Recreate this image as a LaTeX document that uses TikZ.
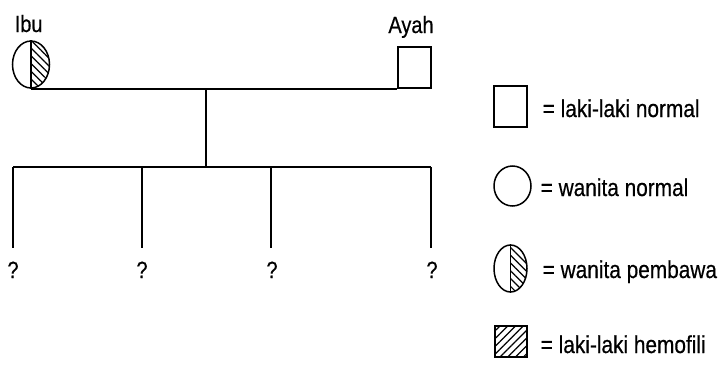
\documentclass[tikz,border=0pt]{standalone}
\usepackage{fontspec}
\setmainfont{Liberation Sans}[FakeStretch=0.85,FakeBold=0.5]
\usetikzlibrary{shapes.geometric,patterns.meta}
\begin{document}
\begin{tikzpicture}[x=1pt,y=-1pt,
  line width=1.5pt,
  male/.style={draw,rectangle,inner sep=0pt,minimum width=33pt,minimum height=41pt},
  female/.style={draw,ellipse,inner sep=0pt},
  lbl/.style={font=\fontsize{23.5pt}{25pt}\selectfont,inner sep=0pt},
  legtext/.style={font=\fontsize{24.5pt}{26pt}\selectfont,inner sep=0pt,anchor=base west},
  hatchbs/.style={pattern={Lines[angle=-45,distance=5.5pt,line width=1.2pt]}},
  hatchfs/.style={pattern={Lines[angle=45,distance=5.5pt,line width=1.2pt]}}
]
\useasboundingbox (0,0) rectangle (722,367);

% parents
\fill[hatchbs] (31,88) arc[start angle=-90,end angle=90,x radius=18.5pt,y radius=23.5pt] -- cycle;
\node[female,minimum width=37pt,minimum height=47pt] (ibu) at (31,64.5) {};
\draw (ibu.north) -- (ibu.south);
\node[lbl,anchor=base west] (ibulbl) at (14,32) {Ibu};
\node[male] (ayah) at (414.5,67.5) {};
\node[lbl,anchor=base] (ayahlbl) at (411,33) {Ayah};

% marriage and descent
\coordinate (m) at (206,88);
\coordinate (s) at (206,167);
\draw (ibu.south) -- (ayah.south west);
\draw (m) -- (s);

% children
\coordinate (c1) at (13,167);
\coordinate (c2) at (142,167);
\coordinate (c3) at (271,167);
\coordinate (c4) at (431,167);
\coordinate (e1) at (13,248);
\coordinate (e2) at (142,248);
\coordinate (e3) at (271,248);
\coordinate (e4) at (431,248);
\draw (c1) -- (c4);
\foreach \i in {1,...,4} \draw (c\i) -- (e\i);
\node[lbl,anchor=base] (q1) at (13,278) {?};
\node[lbl,anchor=base] (q2) at (142,278) {?};
\node[lbl,anchor=base] (q3) at (272,278) {?};
\node[lbl,anchor=base] (q4) at (432,278) {?};

% legend
\node[male] (lm) at (510.5,106.5) {};
\node[legtext] (lmt) at (542,117) {= laki-laki normal};

\node[female,minimum width=37pt,minimum height=40pt] (lf) at (512.5,186) {};
\node[legtext] (lft) at (540,196) {= wanita normal};

\fill[hatchbs] (510.5,292) arc[start angle=-90,end angle=90,x radius=16.5pt,y radius=23.5pt] -- cycle;
\node[female,minimum width=33pt,minimum height=47pt] (lc) at (510.5,268.5) {};
\draw (lc.north) -- (lc.south);
\node[legtext] (lct) at (542,278) {= wanita pembawa};

\node[male,minimum width=32pt,minimum height=31pt,hatchfs] (lh) at (511,341.5) {};
\node[legtext] (lht) at (540,353) {= laki-laki hemofili};
\end{tikzpicture}
\end{document}
